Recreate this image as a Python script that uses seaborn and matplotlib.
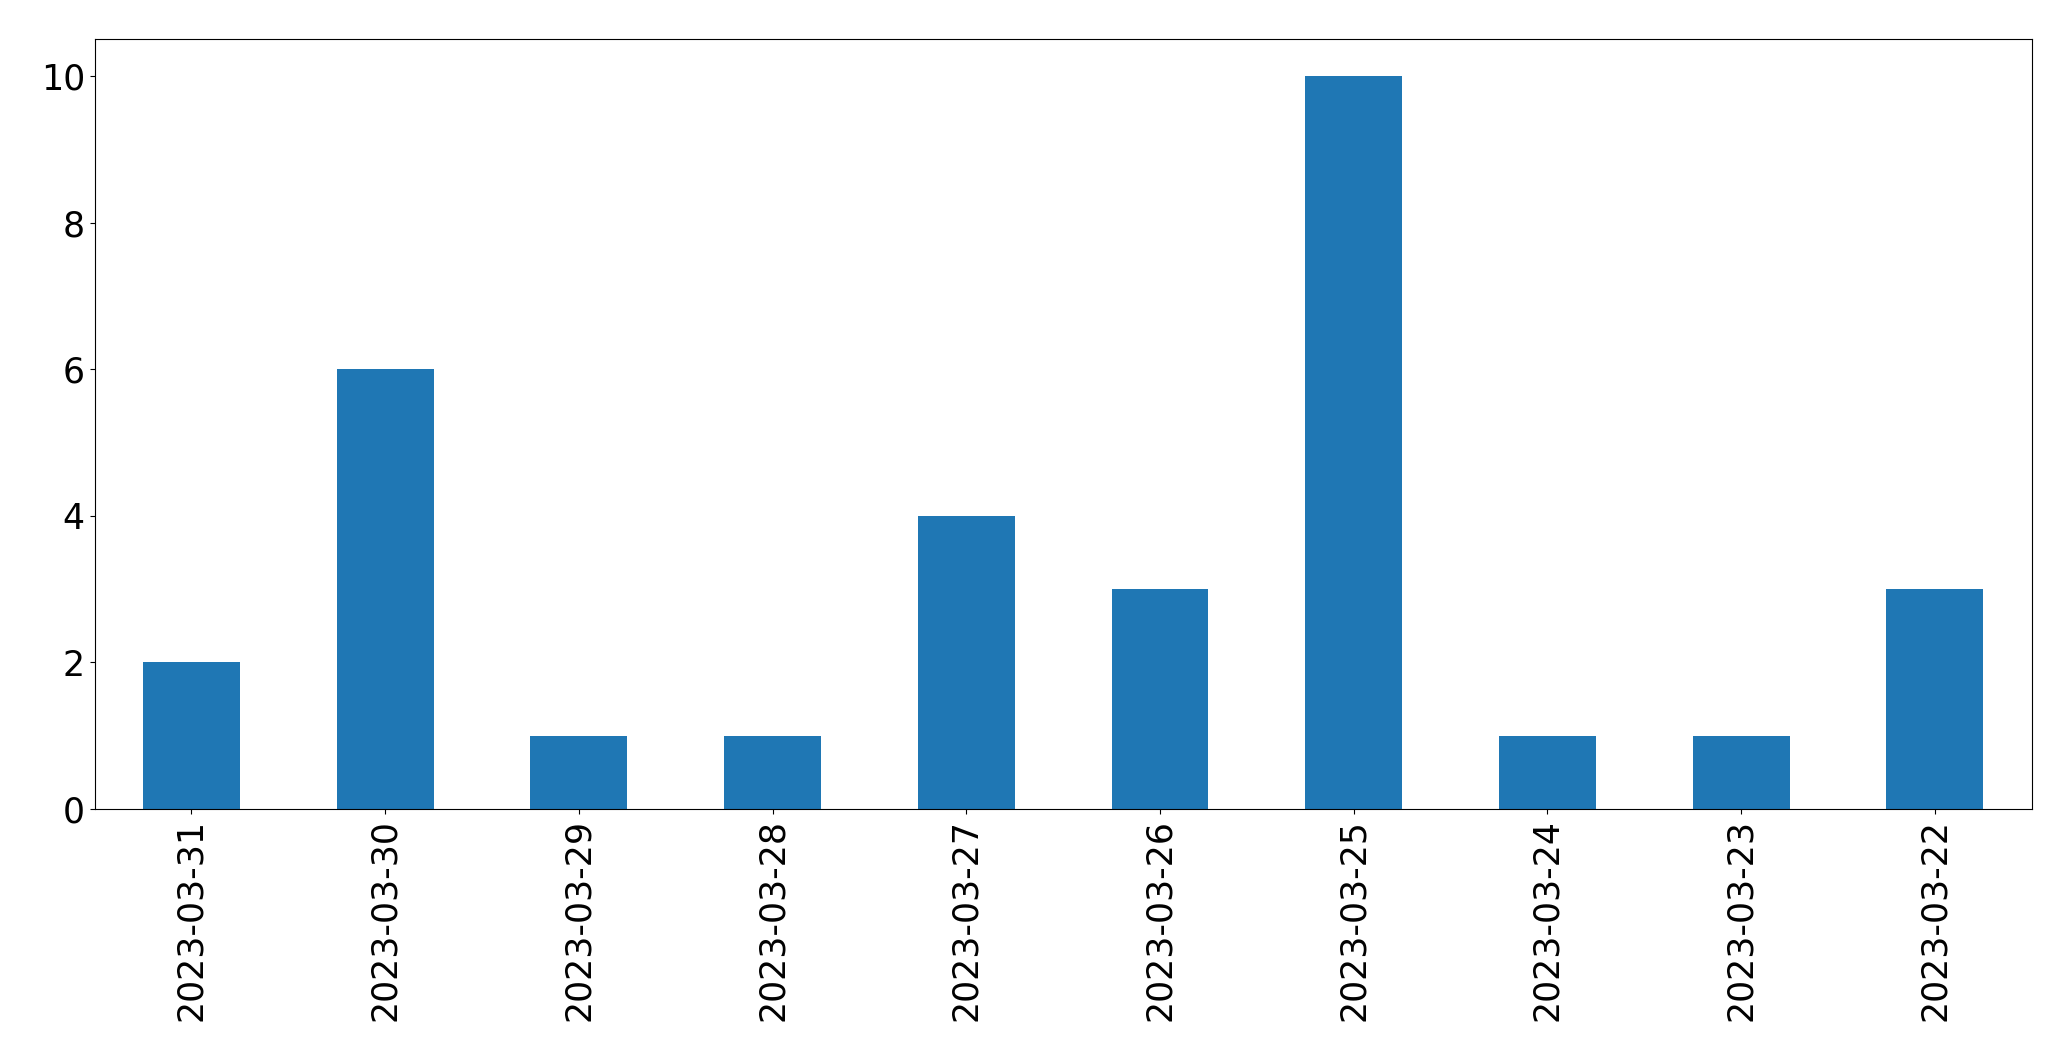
import matplotlib
matplotlib.use("Agg")
import matplotlib.pyplot as plt
import seaborn as sns
import pandas as pd

dates = ["2023-03-31", "2023-03-30", "2023-03-29", "2023-03-28", "2023-03-27",
         "2023-03-26", "2023-03-25", "2023-03-24", "2023-03-23", "2023-03-22"]
counts = [2, 6, 1, 1, 4, 3, 10, 1, 1, 3]

df = pd.DataFrame({"date": dates, "count": counts})

fig, ax = plt.subplots(figsize=(20.71, 10.61), dpi=100)
fig.subplots_adjust(left=0.0457, right=0.981, top=0.963, bottom=0.2375)
sns.barplot(data=df, x="date", y="count", order=dates, color="#1f77b4",
            saturation=1, width=0.5, ax=ax)
ax.set_xlim(-0.5, len(dates) - 0.5)
ax.set_ylim(0, 10.5)
ax.set_xlabel("")
ax.set_ylabel("")
ax.tick_params(axis="both", labelsize=25)
plt.setp(ax.get_xticklabels(), rotation=90)
fig.savefig("out.png", dpi=100)
